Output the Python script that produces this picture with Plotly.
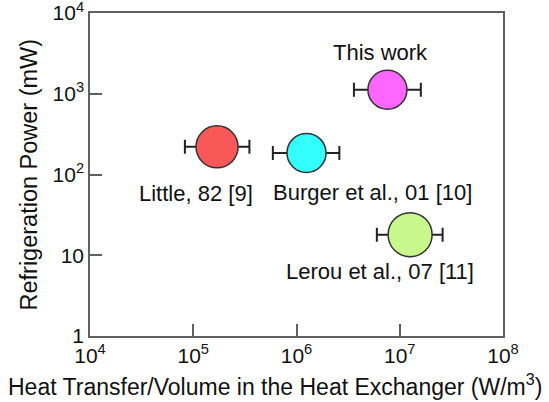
import numpy as np
import plotly.graph_objects as go

# ---- data ----
labels = ["Little, 82 [9]", "Burger et al., 01 [10]", "This work", "Lerou et al., 07 [11]"]
heat_transfer = [1.7e5, 1.25e6, 7.6e6, 1.26e7]       # W/m^3
heat_low = [8.3e4, 5.9e5, 3.6e6, 6.0e6]
heat_high = [3.5e5, 2.6e6, 1.6e7, 2.6e7]
power = [220, 185, 1120, 18]                         # mW

x_tickvals = [1e4, 1e5, 1e6, 1e7, 1e8]
x_ticktext = ["10<sup>4</sup>", "10<sup>5</sup>", "10<sup>6</sup>", "10<sup>7</sup>", "10<sup>8</sup>"]
y_tickvals = [1, 10, 100, 1000, 10000]
y_ticktext = ["1", "10", "10<sup>2</sup>", "10<sup>3</sup>", "10<sup>4</sup>"]
x_title = "Heat Transfer/Volume in the Heat Exchanger (W/m<sup>3</sup>)"
y_title = "Refrigeration Power (mW)"

# ---- styles ----
colors = ["#F85858", "#33FFFF", "#FF66FF", "#C8F78C"]
sizes = [42, 39, 39, 44]
label_shift = [(-21, -47), (66, -40), (-7, 37), (-30, -37)]
FONT = "Liberation Sans, Arial, sans-serif"
W, H = 549, 402
L, R, T, B = 90, 46, 13, 66
pw, ph = W - L - R, H - T - B

x_arr = np.array(heat_transfer)
fig = go.Figure()
fig.add_trace(go.Scatter(
    x=heat_transfer, y=power, mode="markers",
    marker=dict(color=colors, size=sizes, line=dict(color="#333333", width=1.5), opacity=1),
    error_x=dict(type="data", symmetric=False,
                 array=list(np.array(heat_high) - x_arr),
                 arrayminus=list(x_arr - np.array(heat_low)),
                 color="#222222", thickness=2, width=7),
    showlegend=False, hoverinfo="skip",
))

for lab, xv, yv, (dx, dy) in zip(labels, heat_transfer, power, label_shift):
    fig.add_annotation(x=np.log10(xv), y=np.log10(yv), text=lab, showarrow=False,
                       xshift=dx, yshift=dy, font=dict(family=FONT, size=22, color="#111111"))

# axis titles as annotations (positioned in pixels)
fig.add_annotation(xref="paper", yref="paper", x=(W / 2 - L) / pw, y=(H - B - 385) / ph,
                   xanchor="center", yanchor="middle", text=x_title, showarrow=False,
                   font=dict(family=FONT, size=23, color="#111111"))
fig.add_annotation(xref="paper", yref="paper", x=(28 - L) / pw, y=0.5,
                   xanchor="center", yanchor="middle", text=y_title, showarrow=False,
                   textangle=-90, font=dict(family=FONT, size=23.5, color="#111111"))

axis_common = dict(type="log", showline=True, mirror=True, linecolor="#606060", linewidth=1.5,
                   ticks="inside", ticklen=12, tickwidth=1.5, tickcolor="#606060",
                   showgrid=False, zeroline=False, ticklabeloverflow="allow", automargin=False,
                   tickfont=dict(family=FONT, size=21, color="#111111"))

fig.update_xaxes(**axis_common, range=[4, 8], tickvals=x_tickvals, ticktext=x_ticktext)
fig.update_yaxes(**axis_common, range=[0, 4], tickvals=y_tickvals, ticktext=y_ticktext)

fig.update_layout(width=W, height=H, margin=dict(l=L, r=R, t=T, b=B),
                  plot_bgcolor="white", paper_bgcolor="white")
fig.write_html("out.html")
